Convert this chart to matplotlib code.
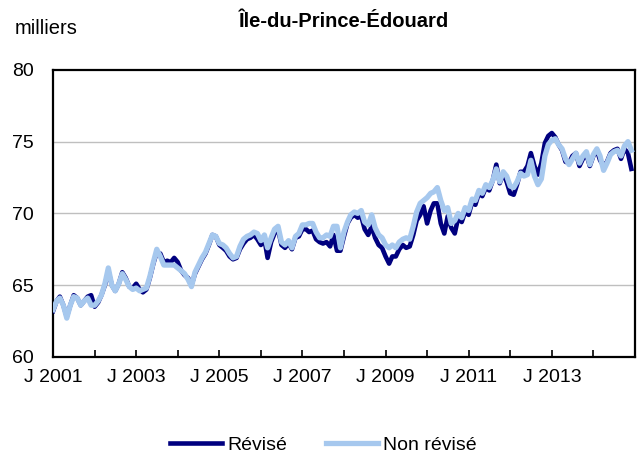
#!/usr/bin/env python
# -*- coding: utf-8 -*-

"""
Emploi a l'Ile-du-Prince-Edouard, series revisee et non revisee
"""

import sys

import matplotlib
matplotlib.use("Agg")
import matplotlib.pyplot as plt
import pandas as pd

# monthly values (thousands), January 2001 to December 2014
start_month = "2001-01-01"
end_month = "2015-01-01"

revised = [
    63.2, 63.9, 64.2, 63.6, 62.8, 63.6, 64.3, 64.1, 63.6, 63.9, 64.2, 64.3,
    63.5, 63.8, 64.3, 65.0, 66.0, 65.0, 64.6, 65.1, 65.9, 65.5, 64.9, 64.8,
    65.1, 64.7, 64.5, 64.7, 65.5, 66.5, 67.3, 67.2, 66.6, 66.7, 66.6, 66.9,
    66.6, 66.0, 65.7, 65.5, 65.0, 65.8, 66.3, 66.8, 67.2, 67.8, 68.5, 68.4,
    67.8, 67.6, 67.4, 67.0, 66.8, 66.9, 67.5, 67.9, 68.2, 68.3, 68.5, 68.2,
    67.8, 68.2, 66.9, 68.0, 68.6, 68.9, 67.8, 67.6, 67.9, 67.5, 68.3, 68.4,
    68.9, 68.9, 68.7, 68.8, 68.2, 68.0, 67.9, 68.0, 67.7, 68.5, 67.4, 67.4,
    68.4, 69.3, 69.7, 69.9, 69.7, 69.8, 68.9, 68.5, 69.1, 68.3, 67.8, 67.6,
    67.0, 66.5, 67.0, 67.0, 67.5, 67.8, 67.6, 67.7, 68.5, 69.5, 69.9, 70.5,
    69.3, 70.2, 70.7, 70.7, 69.3, 68.6, 69.8, 69.0, 68.6, 69.7, 69.4, 70.1,
    69.9, 70.8, 70.6, 71.4, 71.2, 71.8, 71.6, 72.3, 73.4, 72.1, 72.8, 72.2,
    71.4, 71.3, 72.0, 72.9, 72.9, 73.3, 74.2, 73.3, 72.7, 73.5, 74.9, 75.4,
    75.6, 75.3, 74.8, 74.4, 73.6, 73.5, 74.0, 74.2, 73.3, 73.8, 74.1, 73.3,
    74.0, 74.4, 73.7, 73.3, 73.6, 74.2, 74.4, 74.5, 73.8, 74.5, 74.2, 73.1,
]

unrevised = [
    63.3, 63.9, 64.1, 63.6, 62.7, 63.6, 64.2, 64.1, 63.6, 63.9, 64.1, 63.6,
    63.6, 63.9, 64.3, 65.1, 66.2, 65.0, 64.6, 65.1, 65.8, 65.4, 64.9, 64.7,
    64.8, 64.6, 64.7, 64.8, 65.6, 66.6, 67.5, 67.0, 66.4, 66.4, 66.4, 66.4,
    66.2, 66.0, 65.8, 65.4, 64.9, 65.9, 66.4, 66.9, 67.3, 67.9, 68.5, 68.4,
    67.9, 67.8, 67.6, 67.2, 66.9, 67.0, 67.7, 68.2, 68.4, 68.5, 68.7, 68.6,
    68.1, 68.5, 67.6, 68.3, 68.9, 69.1, 68.0, 67.8, 68.1, 67.6, 68.4, 68.6,
    69.2, 69.2, 69.3, 69.3, 68.7, 68.3, 68.3, 68.5, 68.4, 69.1, 69.1, 67.6,
    68.7, 69.4, 69.9, 70.1, 70.0, 70.2, 69.4, 69.2, 69.9, 69.0, 68.5, 68.3,
    67.8, 67.6, 67.8, 67.6, 68.0, 68.2, 68.3, 68.2, 69.1, 70.1, 70.7, 70.9,
    71.1, 71.4, 71.5, 71.8, 70.9, 70.2, 70.4, 69.3, 69.5, 70.0, 69.7, 70.4,
    70.2, 71.0, 70.9, 71.6, 71.4, 72.0, 71.8, 72.3, 73.1, 72.2, 72.9, 72.6,
    71.9, 71.8, 72.2, 72.8, 72.6, 72.7, 73.7, 72.6, 72.0, 72.4, 74.0, 74.8,
    75.1, 75.2, 74.8, 74.5, 73.8, 73.4, 73.8, 74.2, 73.5, 74.0, 74.3, 73.4,
    74.1, 74.5, 74.0, 73.0, 73.5, 74.1, 74.3, 74.4, 74.0, 74.7, 75.0, 74.4,
]

series_labels = ["Révisé", "Non révisé"]
title = "Île-du-Prince-Édouard"
y_unit = "milliers"
y_ticks = [60, 65, 70, 75, 80]


def main():
    """
    Draw both series and save the figure as out.png
    """

    plt.rcParams['font.family'] = ['Liberation Sans', 'DejaVu Sans']

    months = pd.date_range(start_month, periods=len(revised), freq="MS")

    fig = plt.figure(figsize=(6.4, 4.69), dpi=100)
    axis = fig.add_axes([0.083, 0.239, 0.909, 0.612])

    # light horizontal grid
    for value in y_ticks[1:-1]:
        axis.axhline(value, color='#BFBFBF', linewidth=1.0, zorder=1)

    axis.plot(months, revised, color='#00007F', linewidth=3.3,
              solid_joinstyle='round', label=series_labels[0], zorder=3)
    axis.plot(months, unrevised, color='#A6C8EE', linewidth=3.8,
              solid_joinstyle='round', label=series_labels[1], zorder=4)

    axis.set_xlim(pd.Timestamp(start_month), pd.Timestamp(end_month))
    axis.set_ylim(y_ticks[0], y_ticks[-1])
    axis.set_yticks(y_ticks)

    # year ticks, a label every two years
    year_starts = pd.date_range(start_month, end_month, freq="YS")
    axis.set_xticks(year_starts)
    axis.set_xticklabels(["J %d" % d.year if (d.year - 2001) % 2 == 0 and d.year < 2015 else ""
                          for d in year_starts])
    axis.tick_params(axis='x', direction='in', length=5, width=1.2,
                     labelsize=14, pad=9)
    axis.tick_params(axis='y', length=0, labelsize=14, pad=14)

    for spine in axis.spines.values():
        spine.set_linewidth(1.6)
        spine.set_color('black')

    axis.set_title(title, fontsize=14.5, fontweight='bold', pad=31)
    fig.text(0.023, 0.94, y_unit, fontsize=14.5, va='center', ha='left')

    fig.legend(loc='lower center', bbox_to_anchor=(0.505, -0.005), ncol=2,
               frameon=False, fontsize=14, handlelength=2.7, handletextpad=0.25,
               columnspacing=2.0)

    fig.savefig("out.png", dpi=100)
    return 0


if __name__ == '__main__':
    sys.exit(main())
